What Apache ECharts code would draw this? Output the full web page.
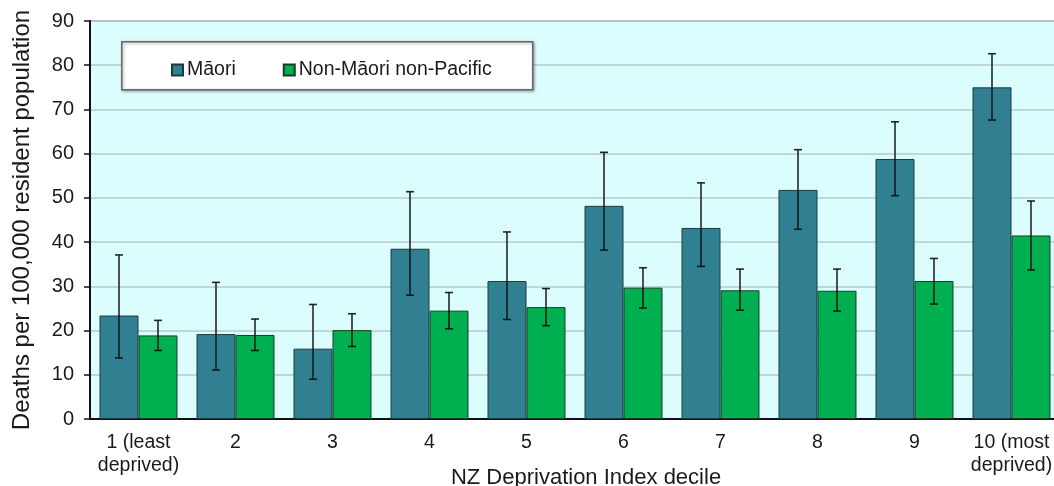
<!DOCTYPE html>
<html>
<head>
<meta charset="utf-8">
<script src="https://cdn.jsdelivr.net/npm/echarts@6/dist/echarts.min.js"></script>
<style>
html,body{margin:0;padding:0;background:#fff;}
#chart{width:1054px;height:486px;}
</style>
</head>
<body>
<div id="chart"></div>
<script>
const categories = ['1 (least\ndeprived)', '2', '3', '4', '5', '6', '7', '8', '9', '10 (most\ndeprived)'];
const seriesNames = ['Māori', 'Non-Māori non-Pacific'];
const maori = [23.4, 19.2, 15.9, 38.5, 31.2, 48.2, 43.2, 51.8, 58.8, 75.0];
const maoriLow = [13.8, 11.1, 9.0, 28.0, 22.5, 38.2, 34.5, 42.9, 50.5, 67.6];
const maoriHigh = [37.1, 30.9, 25.9, 51.4, 42.3, 60.3, 53.4, 60.9, 67.2, 82.6];
const nonMaori = [18.9, 19.0, 20.1, 24.5, 25.3, 29.7, 29.1, 29.0, 31.2, 41.5];
const nonMaoriLow = [15.5, 15.5, 16.4, 20.4, 21.1, 25.1, 24.6, 24.4, 26.0, 33.7];
const nonMaoriHigh = [22.3, 22.6, 23.8, 28.6, 29.5, 34.2, 33.9, 33.9, 36.3, 49.3];
const yTicks = { min: 0, max: 90, interval: 10 };

const FONT = "'Liberation Sans', Arial, sans-serif";
const CAT_GAP = 0.196;

function errData(low, high) {
  return low.map((l, i) => [i, l, high[i]]);
}
function errRender(side) {
  return function (params, api) {
    const idx = api.value(0);
    const band = api.size([1, 0])[0];
    const off = side * band * (1 - CAT_GAP) / 4;
    const lo = api.coord([idx, api.value(1)]);
    const hi = api.coord([idx, api.value(2)]);
    const x = lo[0] + off;
    const cap = 4;
    const style = { stroke: '#111', lineWidth: 1.6, opacity: 0.9 };
    return {
      type: 'group',
      children: [
        { type: 'line', shape: { x1: x, y1: lo[1], x2: x, y2: hi[1] }, style: style },
        { type: 'line', shape: { x1: x - cap, y1: lo[1], x2: x + cap, y2: lo[1] }, style: style },
        { type: 'line', shape: { x1: x - cap, y1: hi[1], x2: x + cap, y2: hi[1] }, style: style }
      ]
    };
  };
}

const chart = echarts.init(document.getElementById('chart'), null, { renderer: 'canvas' });
chart.setOption({
  animation: false,
  textStyle: { fontFamily: FONT },
  grid: {
    left: 90, top: 21, width: 970, bottom: 67,
    outerBoundsMode: 'none', containLabel: false,
    show: true, backgroundColor: '#dcfdfd', borderColor: '#8a8a8a', borderWidth: 1.5
  },
  graphic: [{
    type: 'rect', z: 3, left: 121, top: 41,
    shape: { width: 411, height: 48 },
    style: { fill: '#fff', stroke: '#666', lineWidth: 1.5, shadowColor: 'rgba(0,0,0,0.35)', shadowBlur: 3, shadowOffsetX: 1, shadowOffsetY: 1 }
  }],
  legend: {
    z: 5, left: 166, top: 55, itemGap: 47, itemWidth: 11, itemHeight: 11, icon: 'rect',
    data: seriesNames,
    textStyle: { fontSize: 19.5, color: '#1a1a1a', fontFamily: FONT, padding: [0, 0, 0, -1] }
  },
  xAxis: {
    type: 'category', data: categories,
    name: 'NZ Deprivation Index decile', nameLocation: 'middle', nameGap: 48, nameMoveOverlap: false,
    nameTextStyle: { fontSize: 22, color: '#1a1a1a', fontFamily: FONT, padding: [0, 0, 0, 22] },
    axisLine: { lineStyle: { color: '#111', width: 2 } },
    axisTick: { alignWithLabel: true, interval: 0, length: 6, lineStyle: { color: '#111', width: 1.5 } },
    axisLabel: { interval: 0, fontSize: 19.5, lineHeight: 23, color: '#1a1a1a', margin: 12, fontFamily: FONT },
    splitLine: { show: false }
  },
  yAxis: {
    type: 'value', min: yTicks.min, max: yTicks.max, interval: yTicks.interval,
    name: 'Deaths per 100,000 resident population', nameLocation: 'middle', nameGap: 56, nameRotate: 90, nameMoveOverlap: false,
    nameTextStyle: { fontSize: 24, color: '#1a1a1a', fontFamily: FONT },
    axisLine: { show: true, lineStyle: { color: '#111', width: 2 } },
    axisTick: { show: true, length: 6, lineStyle: { color: '#111', width: 1.5 } },
    axisLabel: { fontSize: 20, color: '#1a1a1a', margin: 16, fontFamily: FONT },
    splitLine: { lineStyle: { color: '#b6caca', width: 1.5 } }
  },
  series: [
    {
      name: seriesNames[0], type: 'bar', data: maori, barGap: '0%', barCategoryGap: (CAT_GAP * 100) + '%',
      itemStyle: { color: '#318091', borderColor: '#1e3a3e', borderWidth: 1 }
    },
    {
      name: seriesNames[1], type: 'bar', data: nonMaori, barGap: '0%', barCategoryGap: (CAT_GAP * 100) + '%',
      itemStyle: { color: '#00b050', borderColor: '#1e3a2a', borderWidth: 1 }
    },
    {
      type: 'custom', name: 'err1', data: errData(maoriLow, maoriHigh), renderItem: errRender(-1), z: 4,
      encode: { x: 0, y: [1, 2] }
    },
    {
      type: 'custom', name: 'err2', data: errData(nonMaoriLow, nonMaoriHigh), renderItem: errRender(1), z: 4,
      encode: { x: 0, y: [1, 2] }
    }
  ]
});
</script>
</body>
</html>
